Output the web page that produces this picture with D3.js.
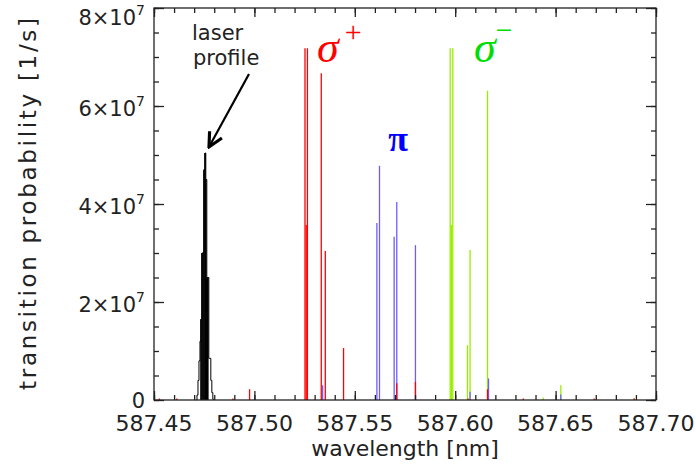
<!DOCTYPE html>
<html><head><meta charset="utf-8">
<script src="https://cdn.jsdelivr.net/npm/d3@7"></script>
<style>
body{margin:0;background:#fff;}
text{font-family:"DejaVu Sans",sans-serif;fill:#222;}
</style></head>
<body><svg id="c" width="696" height="468"></svg>
<script>
// ---- data ----
const xTicks = [587.45, 587.50, 587.55, 587.60, 587.65, 587.70];
const xMinorTicks = d3.range(0, 26).map(i => +(587.45 + i * 0.01).toFixed(2));
const yTicks = [0, 2e7, 4e7, 6e7, 8e7];
const yMinorTicks = d3.range(0, 17).map(i => i * 0.5e7);

const laserWl  = [587.4714,587.4719,587.4724,587.4729,587.4734,587.4739,587.4744,587.4749,587.4754,587.4758,587.4763,587.4768,587.4773,587.4778,587.4783,587.4788,587.4793];
const laserVal = [0.1e7,0.4e7,0.8e7,1.2e7,1.65e7,3.0e7,3.0e7,4.7e7,5.04e7,4.5e7,2.5e7,2.5e7,0.85e7,0.85e7,0.4e7,0.15e7,0.02e7];

const sigmaPlusWl  = [587.4527,587.4614,587.4893,587.4976,587.5252,587.5258,587.5264,587.5333,587.5353,587.5444,587.5709,587.5802,587.6064,587.6161,587.6339,587.6692,587.6891];
const sigmaPlusVal = [0.03e7,0.03e7,0.03e7,0.22e7,7.18e7,3.57e7,7.18e7,6.67e7,3.04e7,1.06e7,0.34e7,0.37e7,0.03e7,0.22e7,0.03e7,0.03e7,0.03e7];

const piWl  = [587.5340,587.5610,587.5623,587.5696,587.5709,587.5802,587.6074,587.6166,587.6526];
const piVal = [0.30e7,3.61e7,4.78e7,3.33e7,4.04e7,3.16e7,0.17e7,0.44e7,0.11e7];

const sigmaMinusWl  = [587.5975,587.5981,587.5988,587.6061,587.6074,587.6161,587.6438,587.6526,587.6891];
const sigmaMinusVal = [7.18e7,3.57e7,7.18e7,1.12e7,3.06e7,6.31e7,0.05e7,0.30e7,0.03e7];

// ---- chart ----
const svg = d3.select("#c");
const L = 154, R = 656, T = 8, B = 400;
const x = d3.scaleLinear().domain([587.45, 587.70]).range([L, R]);
const y = d3.scaleLinear().domain([0, 8e7]).range([B, T]);

function sticks(pairs, color, w) {
  svg.append("g").selectAll("line").data(pairs).join("line")
    .attr("x1", d => x(d[0])).attr("x2", d => x(d[0]))
    .attr("y1", y(0)).attr("y2", d => y(d[1]))
    .attr("stroke", color).attr("stroke-width", w);
}
const zip = (a, b) => a.map((d, i) => [d, b[i]]);
sticks(zip(sigmaMinusWl, sigmaMinusVal), "#99ee00", 1.3);
sticks(zip(piWl, piVal), "#6f5cff", 1.3);
sticks(zip(sigmaPlusWl, sigmaPlusVal), "#ff0000", 1.3);

// laser profile: solid core + thin outline
const lp = zip(laserWl, laserVal);
sticks(lp.filter(d => d[1] >= 1.6e7), "#000", 1.6);
svg.append("path").datum([[laserWl[0] - 0.0002, 0], ...lp, [laserWl[laserWl.length - 1] + 0.0002, 0]])
  .attr("d", d3.line().x(d => x(d[0])).y(d => y(d[1])).curve(d3.curveStepAfter))
  .attr("fill", "none").attr("stroke", "#000").attr("stroke-width", 1);

// axes (ticks inward on all four sides)
function ax(gen, tx, ty, vals, size) {
  const g = svg.append("g").attr("transform", `translate(${tx},${ty})`)
    .call(gen.tickValues(vals).tickSize(size).tickFormat(""));
  g.select(".domain").remove();
  g.selectAll("line").attr("stroke", "#222").attr("stroke-width", 1.3);
  return g;
}
ax(d3.axisBottom(x), 0, B, xMinorTicks, -5);
ax(d3.axisBottom(x), 0, B, xTicks, -9);
ax(d3.axisTop(x), 0, T, xMinorTicks, -5);
ax(d3.axisTop(x), 0, T, xTicks, -9);
ax(d3.axisLeft(y), L, 0, yMinorTicks, -5);
ax(d3.axisLeft(y), L, 0, yTicks, -10);
ax(d3.axisRight(y), R, 0, yMinorTicks, -5);
ax(d3.axisRight(y), R, 0, yTicks, -10);

svg.append("rect").attr("x", L).attr("y", T).attr("width", R - L).attr("height", B - T)
  .attr("fill", "none").attr("stroke", "#222").attr("stroke-width", 1.3);

// x tick labels
svg.append("g").selectAll("text").data(xTicks).join("text")
  .attr("x", d => x(d)).attr("y", 431).attr("text-anchor", "middle")
  .attr("font-size", 22).text(d => d.toFixed(2));

// y tick labels
const yl = svg.append("g").selectAll("text").data(yTicks).join("text")
  .attr("x", 145).attr("y", d => Math.max(y(d) + 10, 25)).attr("text-anchor", "end").attr("font-size", 21);
yl.each(function (d) {
  const t = d3.select(this);
  if (d === 0) { t.attr("y", y(d) + 8).text("0"); return; }
  t.append("tspan").text((d / 1e7) + "×10");
  t.append("tspan").attr("dy", -10).attr("font-size", 14).text("7");
});

// axis titles
svg.append("text").attr("x", 405).attr("y", 456).attr("text-anchor", "middle")
  .attr("font-size", 22).text("wavelength [nm]");
svg.append("text").attr("transform", "translate(36,204) rotate(-90)").attr("text-anchor", "middle")
  .attr("font-size", 23).attr("textLength", 372).attr("lengthAdjust", "spacing")
  .text("transition probability [1/s]");

// annotations
svg.append("text").attr("x", 192).attr("y", 40).attr("font-size", 21).text("laser");
svg.append("text").attr("x", 193).attr("y", 65).attr("font-size", 21).text("profile");
svg.append("defs").append("marker").attr("id", "ah").attr("viewBox", "0 0 10 10")
  .attr("refX", 9).attr("refY", 5).attr("markerWidth", 8).attr("markerHeight", 8)
  .attr("orient", "auto").append("path").attr("d", "M1,1 L9,5 L1,9")
  .attr("fill", "none").attr("stroke", "#000").attr("stroke-width", 1.8);
svg.append("line").attr("x1", 249).attr("y1", 74).attr("x2", 209).attr("y2", 147)
  .attr("stroke", "#000").attr("stroke-width", 2.2).attr("marker-end", "url(#ah)");

const sp = svg.append("text").attr("x", 317).attr("y", 62)
  .style("fill", "#ff0000").style("font-family", "'Liberation Serif',serif").style("font-style", "italic").attr("font-size", 44);
sp.append("tspan").text("σ");
sp.append("tspan").attr("dy", -20).attr("dx", 6).attr("font-size", 30).style("font-style", "normal").text("+");

svg.append("text").attr("x", 398).attr("y", 151).attr("text-anchor", "middle")
  .style("fill", "#0000ff").style("font-family", "'Liberation Serif',serif").style("font-weight", "bold").attr("font-size", 36).text("π");

const sm = svg.append("text").attr("x", 474).attr("y", 62)
  .style("fill", "#00dd00").style("font-family", "'Liberation Serif',serif").style("font-style", "italic").attr("font-size", 44);
sm.append("tspan").text("σ");
sm.append("tspan").attr("dy", -22).attr("dx", 0).attr("font-size", 30).style("font-style", "normal").text("−");
</script></body></html>
